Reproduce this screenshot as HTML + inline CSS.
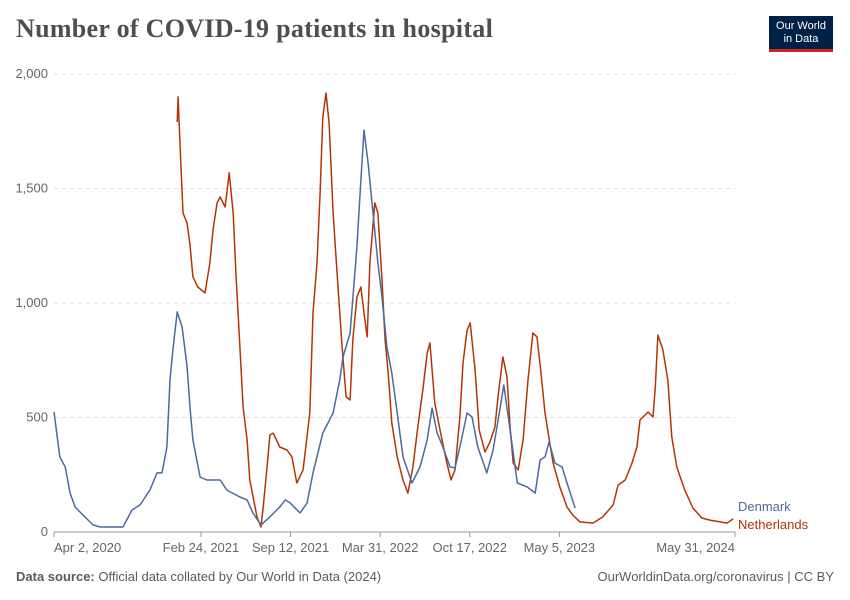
<!DOCTYPE html>
<html><head><meta charset="utf-8">
<style>
body{margin:0;background:#fff;width:850px;height:600px;overflow:hidden;font-family:"Liberation Sans",sans-serif;}
#wrap{position:relative;width:850px;height:600px;}
.title{position:absolute;left:16px;top:14px;font-family:"Liberation Serif",serif;font-weight:bold;font-size:26px;color:#4e4e4e;letter-spacing:0.3px;}
.logo{position:absolute;left:769px;top:16px;width:64px;height:36px;background:#002147;border-bottom:3px solid #ce261e;color:#fff;font-size:11px;line-height:13px;text-align:center;padding-top:4px;box-sizing:border-box;}
.foot{position:absolute;top:569px;font-size:13px;color:#5b5b5b;}
</style></head><body>
<div id="wrap">
<div class="title">Number of COVID-19 patients in hospital</div>
<div class="logo">Our World<br>in Data</div>
<svg id="plot" width="850" height="600" style="position:absolute;left:0;top:0"></svg>
<div class="foot" style="left:16px"><b>Data source:</b> Official data collated by Our World in Data (2024)</div>
<div class="foot" style="right:16px">OurWorldinData.org/coronavirus | CC BY</div>
</div>
<script>
const yTicks=[0,500,1000,1500,2000];
const yTickLabels=["0","500","1,000","1,500","2,000"];
const xTickDays=[0,328,528,728,928,1128,1520];
const xTickLabels=["Apr 2, 2020","Feb 24, 2021","Sep 12, 2021","Mar 31, 2022","Oct 17, 2022","May 5, 2023","May 31, 2024"];
const dkDays=[0,13,25,36,47,65,87,103,141,154,174,192,214,230,241,252,259,266,275,286,297,304,310,326,341,371,386,415,431,444,462,482,504,516,527,549,565,578,600,623,638,645,661,676,685,692,701,712,723,732,743,754,766,779,799,817,833,844,855,868,884,895,906,922,933,946,966,980,995,1004,1018,1034,1056,1074,1085,1096,1105,1118,1134,1145,1163];
const dkVals=[525,328,284,170,109,74,31,22,22,22,96,118,183,258,258,371,664,808,961,895,721,533,402,240,227,227,183,153,140,83,31,66,109,140,127,83,127,258,432,520,664,764,869,1245,1537,1755,1611,1393,1175,1026,808,694,520,328,214,284,402,541,432,371,284,280,371,520,502,371,258,358,533,642,445,214,197,170,314,328,393,301,284,214,105];
const nlDays=[275,277,283,288,297,304,310,321,337,348,355,364,371,382,391,400,406,415,422,431,437,453,462,467,475,482,489,504,520,531,542,556,571,578,587,594,600,607,614,623,634,643,652,661,667,676,685,692,699,705,716,723,732,739,746,754,766,779,790,801,812,824,833,839,850,866,877,886,895,906,913,922,929,940,949,962,973,984,991,1002,1011,1018,1025,1036,1047,1058,1069,1078,1087,1096,1103,1114,1129,1145,1158,1174,1203,1225,1248,1259,1275,1290,1301,1308,1326,1337,1342,1348,1359,1370,1379,1390,1408,1426,1446,1464,1487,1502,1516];
const nlVals=[1790,1900,1611,1393,1349,1245,1114,1070,1044,1175,1319,1437,1463,1419,1568,1393,1131,808,546,402,227,66,22,109,271,424,432,371,358,328,214,271,520,956,1175,1480,1812,1917,1786,1393,1070,808,590,577,838,1026,1070,956,852,1175,1437,1393,1100,838,694,476,328,227,170,284,458,633,782,826,563,402,301,227,271,502,738,882,913,707,445,349,393,458,590,764,677,458,301,271,402,664,869,852,694,520,432,301,197,109,74,44,39,66,118,205,227,301,371,489,524,502,633,860,795,664,415,284,183,105,61,52,44,39,57];

const X0=54,X1=735,Y0=532,Y1=74,DMAX=1520,VMAX=2000;
const xs=d=>X0+d/DMAX*(X1-X0);
const ys=v=>Y0-v/VMAX*(Y0-Y1);
const svg=document.getElementById('plot');
const NS='http://www.w3.org/2000/svg';
function mk(t,a){const e=document.createElementNS(NS,t);for(const k in a)e.setAttribute(k,a[k]);svg.appendChild(e);return e;}
yTicks.forEach((v,i)=>{
  if(v>0){const g=mk('line',{x1:X0,x2:X1,y1:ys(v),y2:ys(v),stroke:'#ddd','stroke-dasharray':'4,4'});
  
  }
  const t=mk('text',{x:48,y:ys(v)+4,'text-anchor':'end','font-size':13,fill:'#666','font-family':'Liberation Sans'});
  t.textContent=yTickLabels[i];
  
  
});
const ax=mk('line',{x1:X0,x2:X1,y1:Y0,y2:Y0,stroke:'#999'});


xTickDays.forEach((d,i)=>{
  const tk=mk('line',{x1:xs(d),x2:xs(d),y1:Y0,y2:Y0+5,stroke:'#999'});
  
  
  const anchor=i==0?'start':(i==xTickDays.length-1?'end':'middle');
  const t=mk('text',{x:xs(d),y:Y0+20,'text-anchor':anchor,'font-size':13,fill:'#666','font-family':'Liberation Sans'});
  t.textContent=xTickLabels[i];
  
  
});
function line(days,vals,color,name){
  const d=days.map((dd,i)=>(i?'L':'M')+xs(dd).toFixed(1)+','+ys(vals[i]).toFixed(1)).join('');
  const p=mk('path',{d:d,fill:'none',stroke:color,'stroke-width':1.5,'stroke-linejoin':'round'});
  
  
}
line(nlDays,nlVals,'#B13507','netherlands-line');
line(dkDays,dkVals,'#4C6A9C','denmark-line');
const l1=mk('text',{x:738,y:511,'font-size':13,fill:'#4C6A9C','font-family':'Liberation Sans'});
l1.textContent='Denmark';


const l2=mk('text',{x:738,y:529,'font-size':13,fill:'#B13507','font-family':'Liberation Sans'});
l2.textContent='Netherlands';


</script>
</body></html>
